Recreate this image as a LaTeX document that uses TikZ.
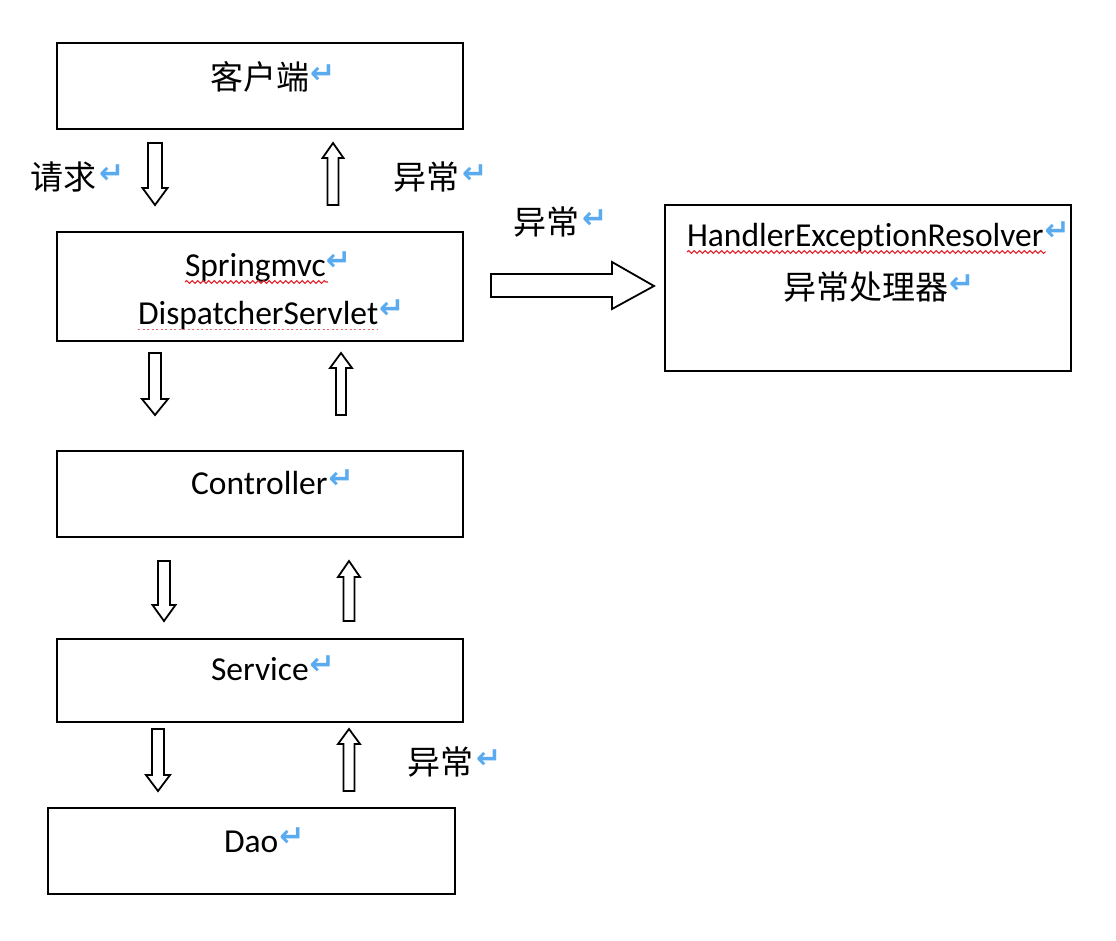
\documentclass[tikz,border=0pt]{standalone}
\usepackage{fontspec}
\setmainfont{Carlito}[Ligatures=NoCommon]
\newfontfamily\cjkfont{Noto Sans CJK SC}
\newfontfamily\symfont{DejaVu Sans}
\usetikzlibrary{decorations.pathmorphing}
\definecolor{retblue}{RGB}{90,170,240}
\definecolor{wavyred}{RGB}{228,30,40}
\newcommand\blockarrow[6]{%
  \draw[barrow] ({#1-#5},#2) -- ({#1+#5},#2) -- ({#1+#5},#3) -- ({#1+#6},#3) -- (#1,#4) -- ({#1-#6},#3) -- ({#1-#5},#3) -- cycle;}
\tikzset{
  box/.style={draw=black, line width=2.6pt, rectangle, inner sep=0pt, outer sep=0pt, fill=white},
  barrow/.style={draw=black, line width=1.8pt, fill=white, line join=miter},
  lat/.style={inner sep=0pt, outer sep=0pt, anchor=base west, font=\fontsize{33.5}{40}\selectfont},
  cjk/.style={inner sep=0pt, outer sep=0pt, anchor=base west, font=\cjkfont\fontsize{33}{40}\selectfont},
  retm/.style={inner sep=0pt, outer sep=0pt, anchor=base west, text=retblue, font=\symfont\bfseries\fontsize{30}{32}\selectfont},
  wavy/.style={draw=wavyred, line width=1.1pt, decorate, decoration={snake, amplitude=1.4pt, segment length=5.5pt}},
  dots/.style={draw=wavyred!70, line width=1pt, dash pattern=on 2pt off 2.5pt}
}
\begin{document}
\begin{tikzpicture}[x=1pt,y=-1pt]
\useasboundingbox (0,0) rectangle (1116,940);
\fill[white] (0,0) rectangle (1116,940);
% boxes
\node[box, minimum width=406pt, minimum height=86pt] (client) at (260,86) {};
\node[box, minimum width=406pt, minimum height=109pt] (disp) at (260,286.5) {};
\node[box, minimum width=406pt, minimum height=86pt] (ctrl) at (260,494) {};
\node[box, minimum width=406pt, minimum height=83pt] (svc) at (260,680.5) {};
\node[box, minimum width=407pt, minimum height=86pt] (dao) at (251.5,851) {};
\node[box, minimum width=406pt, minimum height=166pt] (her) at (868,288) {};
% texts
\node[cjk] (tclient) at (210,89) {客户端};
\node[retm, xshift=1pt, yshift=6pt] (rclient) at (tclient.base east) {↵};
\node[cjk] (treq) at (30,189) {请求};
\node[retm, xshift=3pt, yshift=6pt] (rreq) at (treq.base east) {↵};
\node[cjk] (tex1) at (393,189) {异常};
\node[retm, xshift=3pt, yshift=6pt] (rex1) at (tex1.base east) {↵};
\node[lat] (tsm) at (185,276) {Springmvc};
\node[retm, xshift=0pt, yshift=6pt] (rsm) at (tsm.base east) {↵};
\node[lat] (tds) at (138,324) {DispatcherServlet};
\node[retm, xshift=1pt, yshift=6pt] (rds) at (tds.base east) {↵};
\node[cjk] (tex2) at (513,234) {异常};
\node[retm, xshift=3pt, yshift=6pt] (rex2) at (tex2.base east) {↵};
\node[lat] (ther) at (687,246) {HandlerExceptionResolver};
\node[retm, xshift=1pt, yshift=6pt] (rher) at (ther.base east) {↵};
\node[cjk] (thcn) at (783,299) {异常处理器};
\node[retm, xshift=1pt, yshift=6pt] (rhcn) at (thcn.base east) {↵};
\node[lat] (tctrl) at (191,494) {Controller};
\node[retm, xshift=1pt, yshift=6pt] (rctrl) at (tctrl.base east) {↵};
\node[lat] (tsvc) at (211,680) {Service};
\node[retm, xshift=1pt, yshift=6pt] (rsvc) at (tsvc.base east) {↵};
\node[cjk] (tex3) at (407,774) {异常};
\node[retm, xshift=3pt, yshift=6pt] (rex3) at (tex3.base east) {↵};
\node[lat] (tdao) at (224,852) {Dao};
\node[retm, xshift=1pt, yshift=6pt] (rdao) at (tdao.base east) {↵};
% underlines
\draw[wavy] ([yshift=-6pt]tsm.base west) -- ([yshift=-6pt,xshift=2pt]tsm.base east);
\draw[wavy] ([yshift=-6pt]ther.base west) -- ([yshift=-6pt,xshift=2pt]ther.base east);
\draw[dots] ([yshift=-5pt]tds.base west) -- ([yshift=-5pt]tds.base east);
% block arrows: cx, tail, base, tip, half body, half head
\blockarrow{155}{143}{188}{205}{7}{12.5}
\blockarrow{333}{205}{158}{143}{5.5}{10.5}
\blockarrow{155}{353}{399}{415}{6}{13}
\blockarrow{341}{415}{368}{353}{5}{11}
\blockarrow{164}{561}{605}{621}{6}{11.5}
\blockarrow{349}{621}{577}{561}{5.5}{11}
\blockarrow{158}{729}{775}{791}{6}{12}
\blockarrow{349}{791}{744}{729}{5.5}{11}
\draw[barrow] (491,274) -- (612,274) -- (612,262) -- (654,286) -- (612,309) -- (612,297) -- (491,297) -- cycle;
\end{tikzpicture}
\end{document}
